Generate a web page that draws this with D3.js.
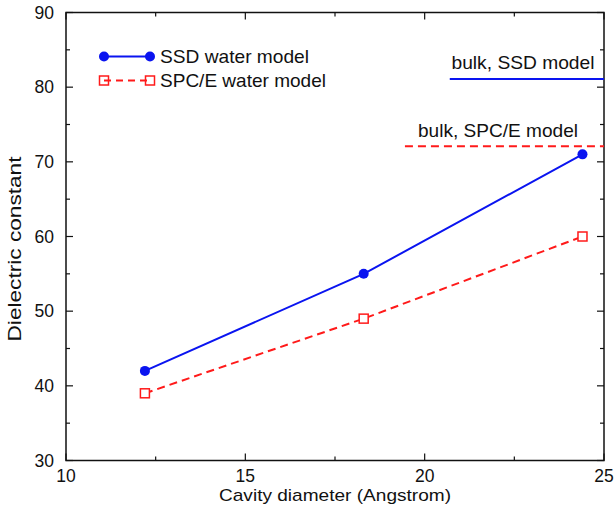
<!DOCTYPE html>
<html lang="en">
<head>
    <meta charset="UTF-8">
    <title>Dielectric constant vs cavity diameter</title>
    <script src="https://cdn.jsdelivr.net/npm/d3@7"></script>
    <style>
        body { margin: 0; background: #fff; }
        text { font-family: "Liberation Sans", Arial, sans-serif; fill: #111; }
    </style>
</head>
<body>
    <svg id="main" width="615" height="514"></svg>
    <script>
        // data
        let diameters = [12.2, 18.3, 24.4];
        let ssdValues = [42, 55, 71];
        let spceValues = [39, 49, 60];
        let bulkSSD = 81.1;
        let bulkSPCE = 72.1;
        let bulkSSDStart = 20.7;
        let bulkSPCEStart = 19.45;
        let xTicks = [10, 15, 20, 25];
        let yTicks = [30, 40, 50, 60, 70, 80, 90];
        let xMinor = [12.5, 17.5, 22.5];
        let yMinor = [35, 45, 55, 65, 75, 85];

        let svg = d3.select("#main");
        let pLeft = 66, pRight = 604, pTop = 12.5, pBottom = 460.5;

        let x = d3.scaleLinear().domain([10, 25]).range([pLeft, pRight]);
        let y = d3.scaleLinear().domain([30, 90]).range([pBottom, pTop]);

        let blue = "#0a14f0";
        let red = "#ff1a1a";

        // the original font is a wide helvetica, so fit to measured widths
        function label(sel, len, size) {
            return sel.attr("font-size", size || 18.5)
                .attr("textLength", len)
                .attr("lengthAdjust", "spacingAndGlyphs");
        }

        // frame
        svg.append("rect")
            .attr("x", pLeft).attr("y", pTop)
            .attr("width", pRight - pLeft).attr("height", pBottom - pTop)
            .attr("fill", "none").attr("stroke", "#111").attr("stroke-width", 1.5);

        // ticks (inward, mirrored)
        let tickG = svg.append("g").attr("stroke", "#111").attr("stroke-width", 1.2);
        function xTick(v, len) {
            tickG.append("line").attr("x1", x(v)).attr("x2", x(v)).attr("y1", pBottom).attr("y2", pBottom - len);
            tickG.append("line").attr("x1", x(v)).attr("x2", x(v)).attr("y1", pTop).attr("y2", pTop + len);
        }
        function yTick(v, len) {
            tickG.append("line").attr("y1", y(v)).attr("y2", y(v)).attr("x1", pLeft).attr("x2", pLeft + len);
            tickG.append("line").attr("y1", y(v)).attr("y2", y(v)).attr("x1", pRight).attr("x2", pRight - len);
        }
        xTicks.forEach(v => xTick(v, 7));
        xMinor.forEach(v => xTick(v, 4));
        yTicks.forEach(v => yTick(v, 7));
        yMinor.forEach(v => yTick(v, 4));

        // tick labels
        svg.append("g").selectAll("text").data(xTicks).join("text")
            .attr("x", d => x(d)).attr("y", pBottom + 21)
            .attr("text-anchor", "middle").attr("font-size", 17.5)
            .text(d => d);
        svg.append("g").selectAll("text").data(yTicks).join("text")
            .attr("x", pLeft - 12).attr("y", d => y(d) + 6)
            .attr("text-anchor", "end").attr("font-size", 17.5)
            .text(d => d);

        // axis titles
        label(svg.append("text"), 232, 17)
            .attr("x", 335).attr("y", 501)
            .attr("text-anchor", "middle")
            .text("Cavity diameter (Angstrom)");
        label(svg.append("text"), 185)
            .attr("transform", "translate(21,249) rotate(-90)")
            .attr("text-anchor", "middle")
            .text("Dielectric constant");

        // bulk reference lines
        svg.append("line")
            .attr("x1", x(bulkSSDStart)).attr("x2", pRight)
            .attr("y1", y(bulkSSD)).attr("y2", y(bulkSSD))
            .attr("stroke", blue).attr("stroke-width", 2);
        svg.append("line")
            .attr("x1", x(bulkSPCEStart)).attr("x2", pRight)
            .attr("y1", y(bulkSPCE)).attr("y2", y(bulkSPCE))
            .attr("stroke", red).attr("stroke-width", 2).attr("stroke-dasharray", "8,5");
        label(svg.append("text"), 143)
            .attr("x", 523).attr("y", y(bulkSSD) - 10)
            .attr("text-anchor", "middle")
            .text("bulk, SSD model");
        label(svg.append("text"), 160)
            .attr("x", 498).attr("y", y(bulkSPCE) - 9)
            .attr("text-anchor", "middle")
            .text("bulk, SPC/E model");

        let line = d3.line().x(d => x(d[0])).y(d => y(d[1]));
        let ssd = diameters.map((d, i) => [d, ssdValues[i]]);
        let spce = diameters.map((d, i) => [d, spceValues[i]]);

        // SPC/E series
        svg.append("path").datum(spce).attr("d", line)
            .attr("fill", "none").attr("stroke", red).attr("stroke-width", 2)
            .attr("stroke-dasharray", "8,5");
        svg.append("g").selectAll("rect").data(spce).join("rect")
            .attr("x", d => x(d[0]) - 4.5).attr("y", d => y(d[1]) - 4.5)
            .attr("width", 9).attr("height", 9)
            .attr("fill", "#fff").attr("stroke", red).attr("stroke-width", 1.5);

        // SSD series
        svg.append("path").datum(ssd).attr("d", line)
            .attr("fill", "none").attr("stroke", blue).attr("stroke-width", 2);
        svg.append("g").selectAll("circle").data(ssd).join("circle")
            .attr("cx", d => x(d[0])).attr("cy", d => y(d[1]))
            .attr("r", 5).attr("fill", blue);

        // legend
        let leg = svg.append("g");
        leg.append("line").attr("x1", 104).attr("x2", 150).attr("y1", 56.5).attr("y2", 56.5)
            .attr("stroke", blue).attr("stroke-width", 2);
        [104, 150].forEach(cx => leg.append("circle").attr("cx", cx).attr("cy", 56.5).attr("r", 5).attr("fill", blue));
        label(leg.append("text"), 149).attr("x", 160).attr("y", 63).text("SSD water model");

        leg.append("line").attr("x1", 104).attr("x2", 150).attr("y1", 80.5).attr("y2", 80.5)
            .attr("stroke", red).attr("stroke-width", 2).attr("stroke-dasharray", "7,5");
        [104, 150].forEach(cx => leg.append("rect").attr("x", cx - 4.5).attr("y", 76).attr("width", 9).attr("height", 9)
            .attr("fill", "none").attr("stroke", red).attr("stroke-width", 1.5));
        label(leg.append("text"), 166).attr("x", 160).attr("y", 87).text("SPC/E water model");
    </script>
</body>
</html>
